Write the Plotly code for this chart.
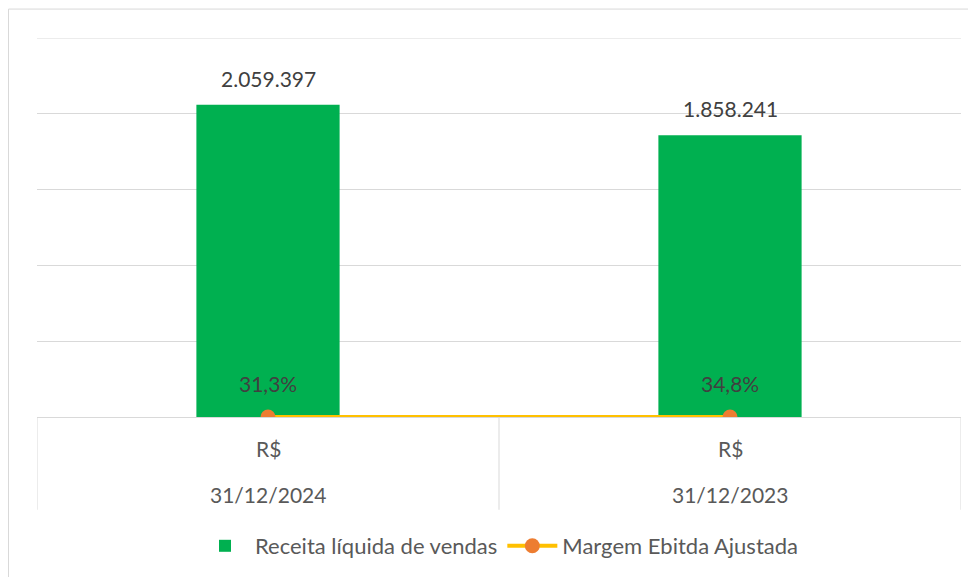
import plotly.graph_objects as go

dates = ["31/12/2024", "31/12/2023"]
units = ["R$", "R$"]
receita = [2059397, 1858241]
margem = [0.313, 0.348]
series_names = ["Receita líquida de vendas", "Margem Ebitda Ajustada"]
y_max = 2500000
y_step = 500000

FONT = "Lato, Carlito, Calibri, sans-serif"
GREY = "#595959"
DARK = "#404040"
GRID = "#D9D9D9"

# page body has an 8px default margin -> figure is offset by 8px
OFF = 8
W, H = 976 - OFF, 577 - OFF
PL, PR, PT, PB = 37, 961, 38, 418  # plot area in page pixels
pw, ph = PR - PL, PB - PT

fig = go.Figure()
fig.add_trace(go.Bar(
    x=dates, y=receita, name=series_names[0],
    marker=dict(color="#00B050", line=dict(width=0)),
    width=0.31,
))
fig.add_trace(go.Scatter(
    x=dates, y=margem, name=series_names[1], mode="lines+markers",
    line=dict(color="#FFC000", width=4),
    marker=dict(color="#ED7D31", size=15, line=dict(width=0)),
))

annotations = []
for i, v in enumerate(receita):
    annotations.append(dict(
        x=dates[i], y=v, xref="x", yref="y", text=f"{v:,}".replace(",", "."),
        showarrow=False, yanchor="bottom", yshift=12,
        font=dict(family=FONT, size=21, color=DARK),
    ))
for i, p in enumerate(margem):
    annotations.append(dict(
        x=dates[i], y=p, xref="x", yref="y", text=f"{p*100:.1f}%".replace(".", ","),
        showarrow=False, yanchor="bottom", yshift=19,
        font=dict(family=FONT, size=21, color=DARK),
    ))
for i, d in enumerate(dates):
    annotations.append(dict(
        x=d, y=0, xref="x", yref="y", text=units[i],
        showarrow=False, yanchor="middle", yshift=-31,
        font=dict(family=FONT, size=21, color=GREY),
    ))
    annotations.append(dict(
        x=d, y=0, xref="x", yref="y", text=d,
        showarrow=False, yanchor="middle", yshift=-77,
        font=dict(family=FONT, size=21, color=GREY),
    ))

div_y = -(511 - PB) / ph
shapes = [dict(type="line", xref="x", yref="paper", x0=xv, x1=xv, y0=0, y1=div_y,
               line=dict(color=GRID, width=1)) for xv in (-0.5, 0.5, 1.5)]
# top gridline at the axis maximum (plotly skips the edge gridline)
shapes.append(dict(type="line", xref="paper", yref="y", x0=0, x1=1, y0=y_max, y1=y_max,
                   line=dict(color=GRID, width=1), layer="below"))
# chart-area border
shapes.append(dict(type="rect", xref="paper", yref="paper",
                   x0=(8.5 - PL) / pw, x1=(990 - PL) / pw,
                   y0=(PB - 600) / ph, y1=(PB - 9) / ph,
                   line=dict(color=GRID, width=1), fillcolor="rgba(0,0,0,0)", layer="below"))

fig.update_layout(
    width=W, height=H,
    margin=dict(l=PL - OFF, r=W - (PR - OFF), t=PT - OFF, b=H - (PB - OFF)),
    paper_bgcolor="white", plot_bgcolor="white",
    font=dict(family=FONT, size=21, color=GREY),
    showlegend=True,
    legend=dict(orientation="h", x=0.5, xanchor="center", y=-(546 - PB) / ph, yanchor="middle",
                font=dict(family=FONT, size=22, color=GREY), traceorder="normal",
                itemwidth=50),
    annotations=annotations,
    shapes=shapes,
)
fig.update_xaxes(
    type="category", showline=True, linecolor=GRID, linewidth=1,
    showticklabels=False, ticks="", showgrid=False, range=[-0.5, 1.5],
)
fig.update_yaxes(
    range=[0, y_max], dtick=y_step, showticklabels=False, showgrid=True,
    gridcolor=GRID, gridwidth=1, zeroline=False, showline=False,
)

fig.write_html("out.html")
